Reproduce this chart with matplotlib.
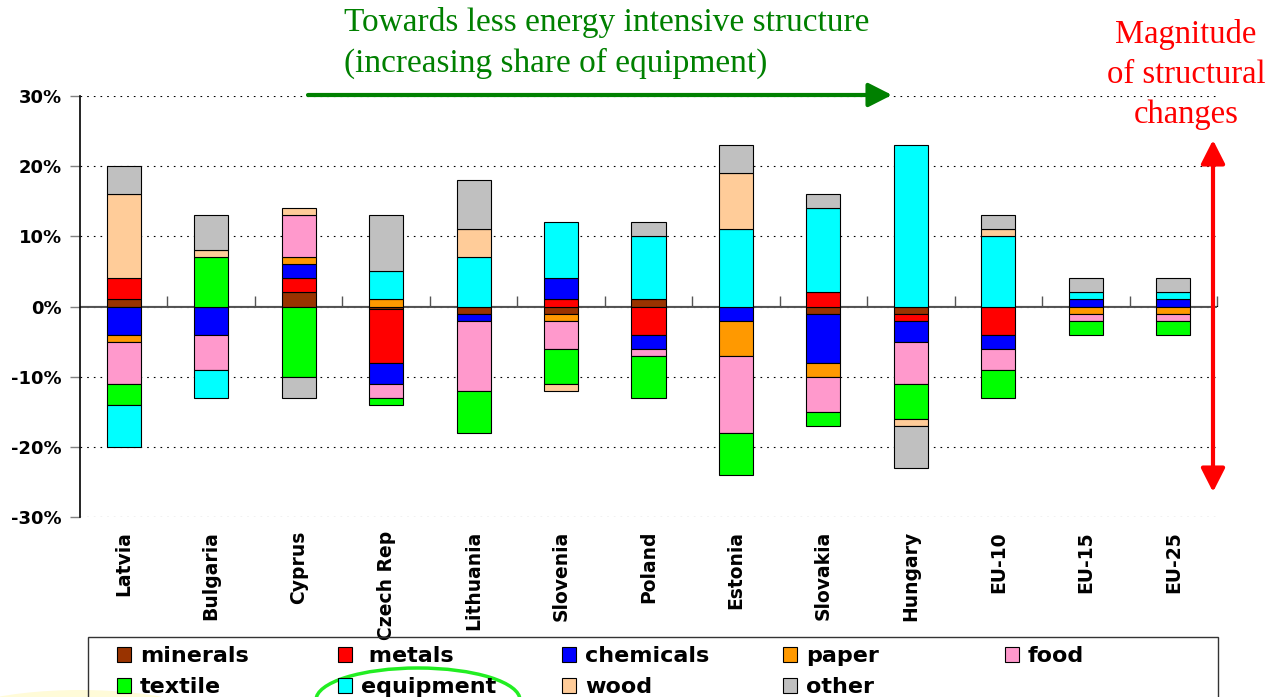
import numpy as np
import matplotlib
matplotlib.use("Agg")
import matplotlib.pyplot as plt
from matplotlib.patches import Rectangle, Ellipse, FancyArrowPatch
from matplotlib.ticker import PercentFormatter, MultipleLocator, NullFormatter

# ---- data: change in sector share of industry (percentage points) ----
countries = ["Latvia", "Bulgaria", "Cyprus", "Czech Rep", "Lithuania", "Slovenia",
             "Poland", "Estonia", "Slovakia", "Hungary", "EU-10", "EU-15", "EU-25"]

minerals  = [1, 0, 2, -0.3, -1, -1, 1, 0, -1, -1, 0, 0, 0]
metals    = [3, 0, 2, -7.7, 0, 1, -4, 0, 2, -1, -4, 0, 0]
chemicals = [-4, -4, 2, -3, -1, 3, -2, -2, -7, -3, -2, 1, 1]
paper     = [-1, 0, 1, 1, 0, -1, 0, -5, -2, 0, 0, -1, -1]
food      = [-6, -5, 6, -2, -10, -4, -1, -11, -5, -6, -3, -1, -1]
textile   = [-3, 7, -10, -1, -6, -5, -6, -6, -2, -5, -4, -2, -2]
equipment = [-6, -4, 0, 4, 7, 8, 9, 11, 12, 23, 10, 1, 1]
wood      = [12, 1, 1, 0, 4, -1, 0, 8, 0, -1, 1, 0, 0]
other     = [4, 5, -3, 8, 7, 0, 2, 4, 2, -6, 2, 2, 2]

sectors = ["minerals", "metals", "chemicals", "paper", "food",
           "textile", "equipment", "wood", "other"]
series = [minerals, metals, chemicals, paper, food, textile, equipment, wood, other]
colors = ["#993300", "#FF0000", "#0000FF", "#FF9900", "#FF99CC",
          "#00FF00", "#00FFFF", "#FFCC99", "#C0C0C0"]
legend_labels = {"metals": " metals"}

plt.rcParams["axes.unicode_minus"] = False

W, H = 1281, 697


def fx(px):
    return px / W


def fy(py):
    return 1 - py / H


fig = plt.figure(figsize=(W / 100, H / 100), dpi=100)
ax = fig.add_axes([fx(80), fy(517), fx(1217) - fx(80), (517 - 96) / H])

n = len(countries)
x = np.arange(n)
pos_base = np.zeros(n)
neg_base = np.zeros(n)
handles = {}
for name, vals, color in zip(sectors, series, colors):
    v = np.asarray(vals, dtype=float)
    bottom = np.where(v >= 0, pos_base, neg_base)
    nz = v != 0
    bc = ax.bar(x[nz], v[nz], width=0.39, bottom=bottom[nz], color=color,
                edgecolor="black", linewidth=0.8, zorder=3)
    handles[name] = bc
    pos_base += np.where(v > 0, v, 0)
    neg_base += np.where(v < 0, v, 0)

ax.set_xlim(-0.5, n - 0.5)
ax.set_ylim(-30, 30)
ax.yaxis.set_major_locator(MultipleLocator(10))
ax.yaxis.set_major_formatter(PercentFormatter(decimals=0))
ax.grid(axis="y", color="black", linestyle=(0, (1.5, 4.5)), linewidth=0.8, zorder=0)
ax.set_axisbelow(True)

for s in ("top", "right", "bottom"):
    ax.spines[s].set_visible(False)
ax.spines["left"].set_color("black")
ax.spines["left"].set_linewidth(1.2)

ax.tick_params(axis="y", length=7, width=1, color="#808080", direction="out",
               pad=6, labelsize=13)
for lab in ax.get_yticklabels():
    lab.set_fontweight("bold")

ax.set_xticks(x)
ax.set_xticklabels(countries, rotation=90, fontsize=13.5, fontweight="bold")
ax.tick_params(axis="x", length=0, pad=10)

# zero line with category separators
ax.axhline(0, color="#555555", linewidth=1.4, zorder=2)
zero = ax.secondary_xaxis(0.5)
zero.set_xticks(np.arange(1, n + 1) - 0.5)
zero.xaxis.set_major_formatter(NullFormatter())
zero.tick_params(axis="x", length=7, width=1, color="#555555", direction="out")
zero.spines["bottom"].set_visible(False)

# ---- annotations ----
serif = "Liberation Serif"
green = "#008000"
fig.text(fx(344), fy(22), "Towards less energy intensive structure", color=green,
         fontsize=24, family=serif, ha="left", va="center")
fig.text(fx(344), fy(63), "(increasing share of equipment)", color=green,
         fontsize=24, family=serif, ha="left", va="center")
for yy, line in zip((35, 75, 115), ("Magnitude", "of structural", "changes")):
    fig.text(fx(1186), fy(yy), line, color="red", fontsize=23.5, family=serif,
             ha="center", va="center")

fig.patches.append(FancyArrowPatch((fx(308), fy(95)), (fx(892), fy(95)),
                                   transform=fig.transFigure,
                                   arrowstyle="-|>,head_length=0.65,head_width=0.33",
                                   mutation_scale=22, lw=3, color=green,
                                   shrinkA=0, shrinkB=0))
fig.patches.append(FancyArrowPatch((fx(1213), fy(140)), (fx(1213), fy(492)),
                                   transform=fig.transFigure,
                                   arrowstyle="<|-|>,head_length=0.65,head_width=0.33",
                                   mutation_scale=22, lw=3, color="red",
                                   shrinkA=0, shrinkB=0))

# soft yellow highlight in the lower-left corner
for w, h, c in ((300, 84, "#fffbd8"), (250, 70, "#fff9b8"), (190, 56, "#ffff99")):
    fig.patches.append(Ellipse((fx(80), fy(732)), w / W, h / H,
                               transform=fig.transFigure, facecolor=c,
                               edgecolor="none", zorder=0))

# ---- legend ----
fig.patches.append(Rectangle((fx(88), fy(720)), fx(1218) - fx(88), (720 - 637) / H,
                             transform=fig.transFigure, fill=False,
                             edgecolor="#333333", lw=1))
columns = [["minerals", "textile"], ["metals", "equipment"], ["chemicals", "wood"],
           ["paper", "other"], ["food"]]
col_x = [117, 338, 562, 783, 1005]
for cx, col in zip(col_x, columns):
    fig.legend([handles[k] for k in col], [legend_labels.get(k, k) for k in col],
               loc="upper left", bbox_to_anchor=(fx(cx), fy(646)),
               bbox_transform=fig.transFigure, frameon=False, borderpad=0,
               borderaxespad=0, handlelength=0.64, handleheight=0.64,
               handletextpad=0.4, labelspacing=0.5,
               prop=dict(family="DejaVu Sans", weight="bold", size=16))

# highlight around the equipment entry
fig.patches.append(Ellipse((fx(418), fy(700)), 204 / W, 64 / H,
                           transform=fig.transFigure, fill=False,
                           edgecolor="#22ee22", lw=2.5))

fig.savefig("out.png", dpi=100)
